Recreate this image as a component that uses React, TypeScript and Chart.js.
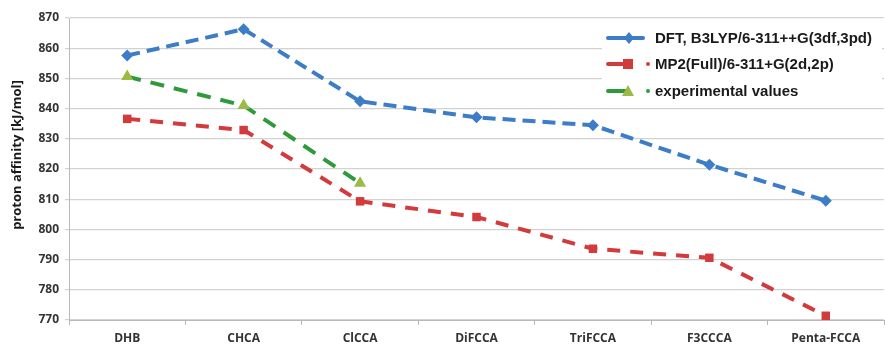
import React, { useEffect, useRef } from "react";
import { Chart, registerables } from "chart.js";

Chart.register(...registerables);

const categories = ["DHB", "CHCA", "ClCCA", "DiFCCA", "TriFCCA", "F3CCCA", "Penta-FCCA"];
const dftValues = [857.6, 866.3, 842.4, 837.1, 834.5, 821.4, 809.5];
const mp2Values = [836.6, 832.9, 809.3, 804.1, 793.6, 790.6, 771.4];
const expValues: (number | null)[] = [850.6, 841.0, 815.3, null, null, null, null];
const seriesNames = [
  "DFT, B3LYP/6-311++G(3df,3pd)",
  "MP2(Full)/6-311+G(2d,2p)",
  "experimental values",
];
const yTitle = "proton affinity [kJ/mol]";
const yMin = 770;
const yMax = 870;
const yStep = 10;

const BLUE = "#3d7cc6";
const RED = "#d23a3c";
const GREEN = "#2f9a3c";
const OLIVE = "#9bbb44";

const legendPlugin = {
  id: "customLegend",
  afterDraw(chart: any) {
    const ctx = chart.ctx as CanvasRenderingContext2D;
    ctx.save();
    ctx.fillStyle = "#ffffff";
    ctx.fillRect(602, 21, 280, 84);
    const items = [
      { y: 38, color: BLUE, lineEnd: 643, mx: 629, marker: "diamond", dot: false },
      { y: 64, color: RED, lineEnd: 628, mx: 628, marker: "square", dot: true },
      { y: 91, color: GREEN, lineEnd: 628, mx: 628, marker: "triangle", dot: true },
    ];
    items.forEach((it, i) => {
      ctx.strokeStyle = it.color;
      ctx.lineWidth = 4;
      ctx.lineCap = "round";
      ctx.beginPath();
      ctx.moveTo(608, it.y);
      ctx.lineTo(it.lineEnd, it.y);
      ctx.stroke();
      if (it.marker === "diamond") {
        ctx.fillStyle = BLUE;
        ctx.beginPath();
        ctx.moveTo(it.mx, it.y - 6);
        ctx.lineTo(it.mx + 5, it.y);
        ctx.lineTo(it.mx, it.y + 6);
        ctx.lineTo(it.mx - 5, it.y);
        ctx.closePath();
        ctx.fill();
      } else if (it.marker === "square") {
        ctx.fillStyle = RED;
        ctx.fillRect(it.mx - 5, it.y - 5, 10, 10);
      } else {
        ctx.fillStyle = OLIVE;
        ctx.beginPath();
        ctx.moveTo(it.mx, it.y - 6);
        ctx.lineTo(it.mx + 6, it.y + 5);
        ctx.lineTo(it.mx - 6, it.y + 5);
        ctx.closePath();
        ctx.fill();
      }
      if (it.dot) {
        ctx.fillStyle = it.color;
        ctx.beginPath();
        ctx.arc(648, it.y, 2, 0, Math.PI * 2);
        ctx.fill();
      }
      ctx.fillStyle = "#1a1a1a";
      ctx.font = "bold 15px 'Liberation Sans', Arial, sans-serif";
      ctx.textBaseline = "middle";
      ctx.textAlign = "left";
      ctx.fillText(seriesNames[i], 655, it.y + 1);
    });
    // y axis title
    ctx.translate(17, 155);
    ctx.rotate(-Math.PI / 2);
    ctx.fillStyle = "#1a1a1a";
    ctx.font = "bold 13px 'Open Sans', sans-serif";
    ctx.textAlign = "center";
    ctx.textBaseline = "middle";
    ctx.fillText(yTitle, 0, 0);
    ctx.restore();
  },
};

export default function App() {
  const ref = useRef<HTMLCanvasElement>(null);
  useEffect(() => {
    document.body.style.margin = "0";
    const chart = new Chart(ref.current!, {
      type: "line",
      data: {
        labels: categories,
        datasets: [
          {
            label: seriesNames[0],
            data: dftValues,
            borderColor: BLUE,
            backgroundColor: BLUE,
            borderWidth: 4,
            borderDash: [13, 7],
            pointStyle: "rectRot",
            pointRadius: 6,
            pointBorderWidth: 0,
          },
          {
            label: seriesNames[1],
            data: mp2Values,
            borderColor: RED,
            backgroundColor: RED,
            borderWidth: 4,
            borderDash: [13, 10],
            pointStyle: "rect",
            pointRadius: 6,
            pointBorderWidth: 0,
          },
          {
            label: seriesNames[2],
            data: expValues,
            borderColor: GREEN,
            backgroundColor: OLIVE,
            borderWidth: 4,
            borderDash: [14, 10],
            pointStyle: "triangle",
            pointRadius: 7,
            pointBorderWidth: 0,
          },
        ],
      },
      options: {
        responsive: false,
        animation: false,
        layout: { padding: { top: 18, right: 0, left: 0, bottom: 0 } },
        plugins: { legend: { display: false }, tooltip: { enabled: false } },
        scales: {
          x: {
            offset: true,
            grid: {
              offset: true,
              drawOnChartArea: false,
              tickLength: 5,
              color: "#b8b8b8",
            },
            border: { color: "#b8b8b8", width: 1 },
            ticks: {
              color: "#333333",
              font: { family: "'Open Sans', sans-serif", weight: "bold", size: 12 },
              padding: 6,
            },
            afterFit(scale: any) {
              scale.height = 25;
            },
          },
          y: {
            min: yMin,
            max: yMax,
            ticks: {
              stepSize: yStep,
              color: "#333333",
              font: { family: "'Open Sans', sans-serif", weight: "bold", size: 12 },
              padding: 6,
            },
            grid: { color: "#d2d2d2", tickLength: 4, lineWidth: 1.2 },
            border: { color: "#b8b8b8", width: 1 },
            afterFit(scale: any) {
              scale.width = 69;
            },
          },
        },
      },
      plugins: [legendPlugin],
    });
    return () => chart.destroy();
  }, []);
  return (
    <div style={{ position: "fixed", left: 0, top: 0, width: 885, height: 345, overflow: "hidden", background: "#fff" }}>
      <canvas ref={ref} width={891} height={345} style={{ display: "block" }} />
    </div>
  );
}
